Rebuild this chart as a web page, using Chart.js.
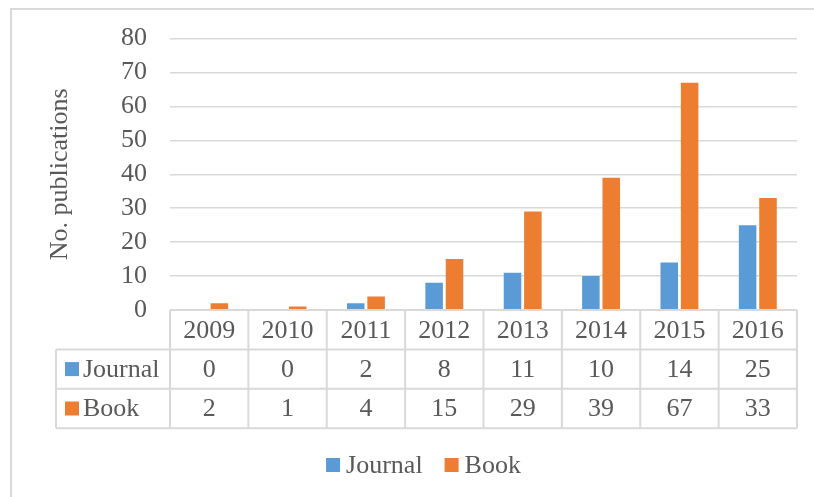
<!DOCTYPE html>
<html>
<head>
<meta charset="utf-8">
<script src="https://cdn.jsdelivr.net/npm/chart.js@4.4.0/dist/chart.umd.min.js"></script>
<style>
  html, body { margin: 0; padding: 0; background: #fff; overflow: hidden; }
  #wrap { position: relative; width: 814px; height: 497px; }
</style>
</head>
<body>
<div id="wrap"><canvas id="pubChart" width="814" height="497"></canvas></div>
<script>
const years = ['2009', '2010', '2011', '2012', '2013', '2014', '2015', '2016'];
const journalCounts = [0, 0, 2, 8, 11, 10, 14, 25];
const bookCounts = [2, 1, 4, 15, 29, 39, 67, 33];
const yMax = 80;
const yStep = 10;

const FONT = "'Liberation Serif', 'Times New Roman', serif";
const TEXT = '#595959';
const LINE = '#d9d9d9';

// outer frame of the chart, like the Excel chart border
const frame = {
    id: 'frame',
    beforeDraw(chart) {
        const ctx = chart.ctx;
        ctx.save();
        ctx.strokeStyle = LINE;
        ctx.lineWidth = 2;
        ctx.strokeRect(11, 9, chart.width + 20, chart.height + 20);
        ctx.restore();
    }
};

// data table under the plot, columns follow the x scale, legend below it
const dataTable = {
    id: 'dataTable',
    afterDraw(chart) {
        const {ctx, chartArea, scales: {x}} = chart;
        const n = years.length;
        const cellW = (chartArea.right - chartArea.left) / n;
        const top = chartArea.bottom;
        const rowH = 39.4;
        const labelLeft = 56;
        const rows = chart.data.datasets;

        ctx.save();
        ctx.strokeStyle = LINE;
        ctx.lineWidth = 2;
        ctx.beginPath();
        ctx.moveTo(chartArea.left, top);
        ctx.lineTo(chartArea.right, top);
        for (let r = 1; r <= rows.length + 1; r++) {
            ctx.moveTo(labelLeft, top + r * rowH);
            ctx.lineTo(chartArea.right, top + r * rowH);
        }
        const bottom = top + (rows.length + 1) * rowH;
        ctx.moveTo(labelLeft, top + rowH);
        ctx.lineTo(labelLeft, bottom);
        for (let i = 0; i < n; i++) {
            const left = x.getPixelForValue(i) - cellW / 2;
            ctx.moveTo(left, top);
            ctx.lineTo(left, bottom);
        }
        ctx.moveTo(chartArea.right, top);
        ctx.lineTo(chartArea.right, bottom);
        ctx.stroke();

        ctx.fillStyle = TEXT;
        ctx.font = '26px ' + FONT;
        ctx.textAlign = 'center';
        ctx.textBaseline = 'middle';
        years.forEach((yr, i) => {
            ctx.fillText(yr, x.getPixelForValue(i), top + rowH / 2 + 1);
        });
        rows.forEach((ds, r) => {
            const cy = top + (r + 1.5) * rowH;
            ctx.fillStyle = ds.backgroundColor;
            ctx.fillRect(labelLeft + 9, cy - 7, 14, 14);
            ctx.fillStyle = TEXT;
            ctx.textAlign = 'left';
            ctx.fillText(ds.label, labelLeft + 27, cy + 1);
            ctx.textAlign = 'center';
            ds.data.forEach((v, i) => {
                ctx.fillText(String(v), x.getPixelForValue(i), cy + 1);
            });
        });

        // legend
        ctx.textAlign = 'left';
        const gap = 6, itemGap = 22, box = 14;
        const widths = rows.map(ds => box + gap + ctx.measureText(ds.label).width);
        const total = widths.reduce((a, b) => a + b, 0) + itemGap * (rows.length - 1);
        let lx = (chartArea.left + chartArea.right) / 2 - total / 2 - 60;
        const ly = 465;
        rows.forEach((ds, r) => {
            ctx.fillStyle = ds.backgroundColor;
            ctx.fillRect(lx, ly - box / 2, box, box);
            ctx.fillStyle = TEXT;
            ctx.fillText(ds.label, lx + box + gap, ly + 1);
            lx += widths[r] + itemGap;
        });
        ctx.restore();
    }
};

const ctx = document.getElementById('pubChart').getContext('2d');
const pubChart = new Chart(ctx, {
    type: 'bar',
    data: {
        labels: years,
        datasets: [
            {
                label: 'Journal',
                data: journalCounts,
                backgroundColor: '#5b9bd5',
                categoryPercentage: 0.52,
                barPercentage: 0.86
            },
            {
                label: 'Book',
                data: bookCounts,
                backgroundColor: '#ed7d31',
                categoryPercentage: 0.52,
                barPercentage: 0.86
            }
        ]
    },
    options: {
        responsive: false,
        animation: false,
        layout: {
            padding: { top: 38, right: 17, bottom: 69, left: 0 }
        },
        plugins: {
            tooltip: { enabled: false },
            legend: { display: false }
        },
        scales: {
            x: {
                grid: { display: false },
                border: { display: false },
                ticks: { display: false },
                afterFit(scale) { scale.height = 118; }
            },
            y: {
                min: 0,
                max: yMax,
                ticks: {
                    stepSize: yStep,
                    autoSkip: false,
                    padding: 23,
                    color: TEXT,
                    font: { family: FONT, size: 26 }
                },
                grid: { color: LINE, lineWidth: 1.5, drawTicks: false },
                border: { display: false },
                title: {
                    display: true,
                    text: 'No. publications',
                    color: TEXT,
                    padding: { top: 47, bottom: 0 },
                    font: { family: FONT, size: 26, lineHeight: 1 }
                },
                afterFit(scale) { scale.width = 170; }
            }
        }
    },
    plugins: [frame, dataTable]
});
</script>
</body>
</html>
